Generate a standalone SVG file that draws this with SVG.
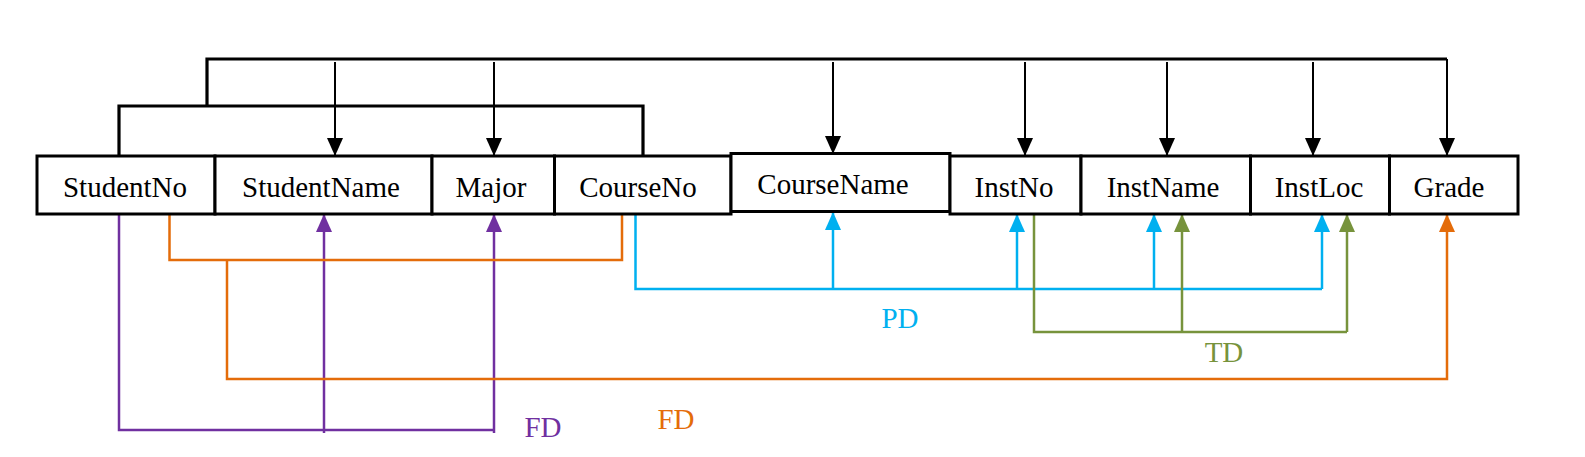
<svg xmlns="http://www.w3.org/2000/svg" width="1585" height="457" viewBox="0 0 1585 457">
<style>
.box{fill:#fff;stroke:#000;stroke-width:3}
.lbl{font-family:"Liberation Serif","Times New Roman",serif;font-size:29px;fill:#000;text-anchor:middle}
.k{fill:none;stroke:#000;stroke-width:2}
.kb{fill:none;stroke:#000;stroke-width:3.2}
.p{fill:none;stroke:#7030A0;stroke-width:2.5}
.o{fill:none;stroke:#E46C0A;stroke-width:2.5}
.b{fill:none;stroke:#00B0F0;stroke-width:2.5}
.g{fill:none;stroke:#77933C;stroke-width:2.5}
.tag{font-family:"Liberation Serif","Times New Roman",serif;font-size:29px;text-anchor:middle}
</style>
<defs>
<marker id="ak" viewBox="0 0 18 16" refX="18" refY="8" markerWidth="18" markerHeight="16" markerUnits="userSpaceOnUse" orient="auto"><path d="M0,0 L18,8 L0,16 z" fill="#000"/></marker>
<marker id="ap" viewBox="0 0 18 16" refX="18" refY="8" markerWidth="18" markerHeight="16" markerUnits="userSpaceOnUse" orient="auto"><path d="M0,0 L18,8 L0,16 z" fill="#7030A0"/></marker>
<marker id="ao" viewBox="0 0 18 16" refX="18" refY="8" markerWidth="18" markerHeight="16" markerUnits="userSpaceOnUse" orient="auto"><path d="M0,0 L18,8 L0,16 z" fill="#E46C0A"/></marker>
<marker id="ab" viewBox="0 0 18 16" refX="18" refY="8" markerWidth="18" markerHeight="16" markerUnits="userSpaceOnUse" orient="auto"><path d="M0,0 L18,8 L0,16 z" fill="#00B0F0"/></marker>
<marker id="ag" viewBox="0 0 18 16" refX="18" refY="8" markerWidth="18" markerHeight="16" markerUnits="userSpaceOnUse" orient="auto"><path d="M0,0 L18,8 L0,16 z" fill="#77933C"/></marker>
</defs>
<rect width="1585" height="457" fill="#fff"/>
<g id="connectors">
<path class="kb" d="M207,106 V59 H1447"/>
<path class="k" d="M1447,59 V156" marker-end="url(#ak)"/>
<path class="kb" d="M119,156 V106 H643 V156"/>
<path class="k" d="M335,62 V156" marker-end="url(#ak)"/>
<path class="k" d="M494,62 V156" marker-end="url(#ak)"/>
<path class="k" d="M833,62 V154" marker-end="url(#ak)"/>
<path class="k" d="M1025,62 V156" marker-end="url(#ak)"/>
<path class="k" d="M1167,62 V156" marker-end="url(#ak)"/>
<path class="k" d="M1313,62 V156" marker-end="url(#ak)"/>
<path class="p" d="M119,214 V430 H494"/>
<path class="p" d="M324,433 V214" marker-end="url(#ap)"/>
<path class="p" d="M494,433 V214" marker-end="url(#ap)"/>
<path class="o" d="M169.5,214 V260 H622 V214"/>
<path class="o" d="M227,260 V379 H1447 V214" marker-end="url(#ao)"/>
<path class="b" d="M635.5,214 V289 H1322"/>
<path class="b" d="M833,289 V212" marker-end="url(#ab)"/>
<path class="b" d="M1017,289 V214" marker-end="url(#ab)"/>
<path class="b" d="M1154,289 V214" marker-end="url(#ab)"/>
<path class="b" d="M1322,289 V214" marker-end="url(#ab)"/>
<path class="g" d="M1034,214 V332 H1347"/>
<path class="g" d="M1182,332 V214" marker-end="url(#ag)"/>
<path class="g" d="M1347,332 V214" marker-end="url(#ag)"/>
<text class="tag" x="900" y="328" fill="#00B0F0">PD</text>
<text class="tag" x="1224" y="362" fill="#77933C">TD</text>
<text class="tag" x="543" y="437" fill="#7030A0">FD</text>
<text class="tag" x="676" y="429" fill="#E46C0A">FD</text>
</g>
<g id="StudentNo"><rect class="box" x="37" y="156" width="178" height="58"/><text class="lbl" x="125" y="197">StudentNo</text></g>
<g id="StudentName"><rect class="box" x="215" y="156" width="217" height="58"/><text class="lbl" x="321" y="197">StudentName</text></g>
<g id="Major"><rect class="box" x="432" y="156" width="122.5" height="58"/><text class="lbl" x="491" y="197">Major</text></g>
<g id="CourseNo"><rect class="box" x="554.5" y="156" width="176.5" height="58"/><text class="lbl" x="638" y="197">CourseNo</text></g>
<g id="CourseName"><rect class="box" x="731" y="153.5" width="219" height="58"/><text class="lbl" x="833" y="194">CourseName</text></g>
<g id="InstNo"><rect class="box" x="950" y="156" width="131" height="58"/><text class="lbl" x="1014" y="197">InstNo</text></g>
<g id="InstName"><rect class="box" x="1081" y="156" width="169.5" height="58"/><text class="lbl" x="1163" y="197">InstName</text></g>
<g id="InstLoc"><rect class="box" x="1250.5" y="156" width="139" height="58"/><text class="lbl" x="1319" y="197">InstLoc</text></g>
<g id="Grade"><rect class="box" x="1389.5" y="156" width="128.5" height="58"/><text class="lbl" x="1449" y="197">Grade</text></g>
</svg>
